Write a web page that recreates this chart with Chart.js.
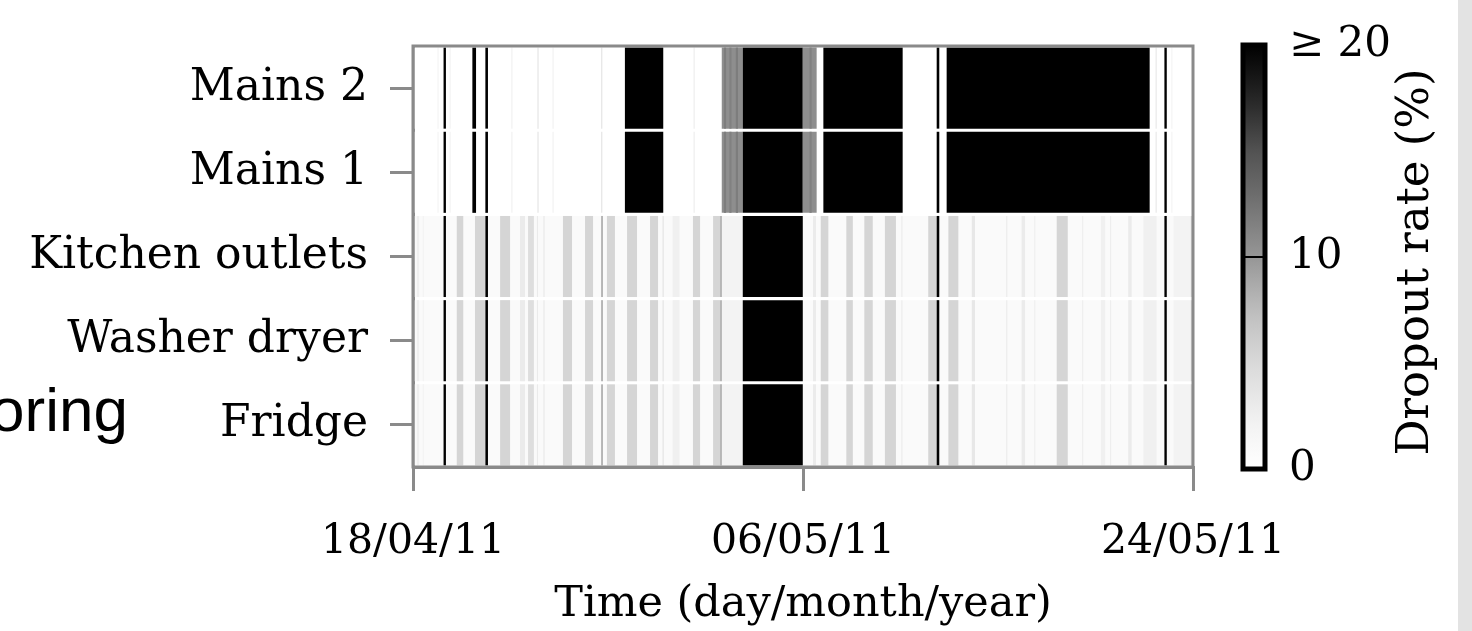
<!DOCTYPE html>
<html>
<head>
<meta charset="utf-8">
<script src="https://cdn.jsdelivr.net/npm/chart.js@4.4.1/dist/chart.umd.min.js"></script>
<style>
  body { margin: 0; background: #fff; overflow: hidden; }
  #wrap { position: relative; width: 1472px; height: 631px; }
  #side { position: absolute; left: -10px; top: 374px; font: 62px "Liberation Sans", sans-serif; color: #000; }
  #strip { position: absolute; right: 0; top: 0; width: 14px; height: 631px; background: #e3e3e3; }
</style>
</head>
<body>
<div id="wrap">
  <canvas id="chart" width="1472" height="631"></canvas>
  <div id="side">oring</div>
  <div id="strip"></div>
</div>
<script>
// rows, top to bottom
const rowLabels = ["Mains 2", "Mains 1", "Kitchen outlets", "Washer dryer", "Fridge"];

// x axis in days since 18/04/11
const xTickDays = [0, 18, 36];
const xTickLabels = ["18/04/11", "06/05/11", "24/05/11"];

// colorbar
const cbarTicks = [0, 10, 20];
const cbarLabels = ["0", "10", "\u2265 20"];
const rateMax = 20;

// dropout segments: [startDay, endDay, rate %], later ones drawn on top
// both mains rows read the same
const mainsDropout = [
  [0, 36, 0],
  [1.13, 1.18, 2], [1.69, 1.74, 2], [4.54, 4.59, 2.5], [5.74, 5.80, 3.5],
  [6.44, 6.49, 2.5], [8.68, 8.74, 3.5], [12.95, 13.0, 3], [34.27, 34.33, 3], [35.0, 35.05, 2],
  [1.41, 1.52, 20], [2.74, 2.91, 20], [3.34, 3.46, 20], [9.78, 11.55, 20],
  [14.25, 15.22, 10.6], [14.35, 14.45, 11.8], [14.6, 14.7, 11.5], [14.9, 15.0, 11.8],
  [15.22, 17.99, 20],
  [17.99, 18.63, 10.6], [18.3, 18.4, 11.5],
  [18.94, 22.60, 20], [24.17, 24.29, 20], [24.63, 34.00, 20], [34.68, 34.79, 20]
];

// the three circuit rows read the same
const circuitDropout = [
  [0, 36, 0.8],
  [0.18, 0.28, 2.5], [0.45, 0.5, 2],
  [2.02, 2.32, 5.4], [2.86, 3.32, 5.4], [4.02, 4.48, 5.4], [4.94, 5.17, 3],
  [5.31, 5.58, 4.5], [5.72, 5.77, 3], [6.0, 6.09, 2.5], [6.92, 7.34, 5.4],
  [7.94, 8.31, 5.4], [8.68, 8.77, 8], [8.95, 9.32, 5.4], [9.88, 10.34, 5.4],
  [10.94, 11.31, 5.4], [11.52, 11.57, 4], [11.98, 12.3, 2.5], [12.92, 13.25, 5.4],
  [13.85, 14.17, 5.4], [14.17, 14.26, 8], [14.26, 15.22, 2],
  [18.46, 18.6, 3], [18.82, 19.17, 5.4], [20.0, 20.3, 5.4], [20.83, 21.22, 5.4],
  [21.78, 22.29, 5.4], [22.54, 22.59, 3], [23.78, 24.17, 5.4], [24.71, 25.17, 5.4],
  [25.79, 25.94, 3.5], [27.38, 27.43, 3], [28.09, 28.25, 3], [28.68, 28.72, 3],
  [29.71, 30.22, 5.4], [30.89, 30.93, 3], [31.75, 31.95, 2.5], [32.18, 32.22, 3],
  [33.01, 33.17, 3], [33.71, 34.32, 2.5], [35.1, 36, 2], [35.9, 35.95, 5],
  [1.41, 1.52, 20], [3.34, 3.46, 20], [15.22, 17.99, 20], [24.17, 24.29, 20], [34.68, 34.79, 20]
];

const rowData = [mainsDropout, mainsDropout, circuitDropout, circuitDropout, circuitDropout];

// matplotlib "Greys"
const greys = [255, 240, 217, 189, 150, 115, 82, 37, 0];
function grey(v) {
  const t = Math.max(0, Math.min(1, v / rateMax)) * (greys.length - 1);
  const i = Math.min(Math.floor(t), greys.length - 2);
  const g = Math.round(greys[i] + (greys[i + 1] - greys[i]) * (t - i));
  return `rgb(${g},${g},${g})`;
}

const axisGray = "#8a8a8a";
const serif = "DejaVu Serif";

const frame = {
  id: "frame",
  afterDatasetsDraw(chart) {
    const { ctx, chartArea: a } = chart;
    ctx.save();
    ctx.strokeStyle = axisGray;
    ctx.lineWidth = 3;
    ctx.strokeRect(a.left, a.top, a.right - a.left, a.bottom - a.top);
    ctx.restore();
  }
};

const colorbar = {
  id: "colorbar",
  afterDraw(chart) {
    const ctx = chart.ctx;
    const left = 1243, right = 1265, top = 45, bottom = 469;
    const yOf = v => bottom - (v / rateMax) * (bottom - top);
    ctx.save();
    const grad = ctx.createLinearGradient(0, bottom, 0, top);
    for (let i = 0; i <= 20; i++) grad.addColorStop(i / 20, grey(i / 20 * rateMax));
    ctx.fillStyle = grad;
    ctx.fillRect(left, top, right - left, bottom - top);
    ctx.strokeStyle = "#000";
    ctx.lineWidth = 5;
    ctx.strokeRect(left, top, right - left, bottom - top);
    ctx.lineWidth = 2;
    ctx.fillStyle = "#000";
    ctx.font = `42px "${serif}"`;
    ctx.textBaseline = "middle";
    ctx.textAlign = "left";
    cbarTicks.forEach((v, i) => {
      if (v > 0 && v < rateMax) {
        ctx.beginPath();
        ctx.moveTo(left, yOf(v));
        ctx.lineTo(right, yOf(v));
        ctx.stroke();
      }
      ctx.fillText(cbarLabels[i], 1289, yOf(v));
    });
    ctx.font = `45px "${serif}"`;
    ctx.translate(1416, 262);
    ctx.rotate(-Math.PI / 2);
    ctx.textAlign = "center";
    ctx.fillText("Dropout rate (%)", 0, 0);
    ctx.restore();
  }
};

new Chart(document.getElementById("chart"), {
  type: "bar",
  data: {
    labels: rowLabels,
    datasets: rowLabels.map((name, r) => ({
      label: name,
      data: rowData[r].map(s => ({ x: [s[0], s[1]], y: name, v: s[2] })),
      backgroundColor: c => grey(c.raw.v),
      borderWidth: 0,
      grouped: false,
      categoryPercentage: 1,
      barPercentage: 0.963
    }))
  },
  options: {
    indexAxis: "y",
    responsive: false,
    animation: false,
    events: [],
    layout: { padding: { left: 0, right: 279, top: 46, bottom: 0 } },
    plugins: { legend: { display: false }, tooltip: { enabled: false } },
    scales: {
      x: {
        type: "linear",
        min: 0,
        max: 36,
        afterFit: s => { s.height = 164; s.paddingLeft = 0; s.paddingRight = 0; },
        afterBuildTicks: s => { s.ticks = xTickDays.map(v => ({ value: v })); },
        border: { display: true, color: axisGray, width: 3 },
        grid: { drawOnChartArea: false, drawTicks: true, tickLength: 24, tickColor: axisGray, lineWidth: 3 },
        ticks: {
          autoSkip: false, maxRotation: 0, padding: 27, color: "#000",
          font: { family: serif, size: 41 },
          callback: v => xTickLabels[xTickDays.indexOf(v)]
        },
        title: {
          display: true, text: "Time (day/month/year)", color: "#000",
          font: { family: serif, size: 43 }, padding: { top: 0, bottom: 0 }
        }
      },
      y: {
        type: "category",
        offset: true,
        afterFit: s => { s.width = 413; s.paddingTop = 0; s.paddingBottom = 0; },
        border: { display: true, color: axisGray, width: 3 },
        grid: { offset: false, drawOnChartArea: false, drawTicks: true, tickLength: 23, tickColor: axisGray, lineWidth: 3 },
        ticks: { padding: 22, color: "#000", font: { family: serif, size: 44 } }
      }
    }
  },
  plugins: [frame, colorbar]
});
</script>
</body>
</html>
